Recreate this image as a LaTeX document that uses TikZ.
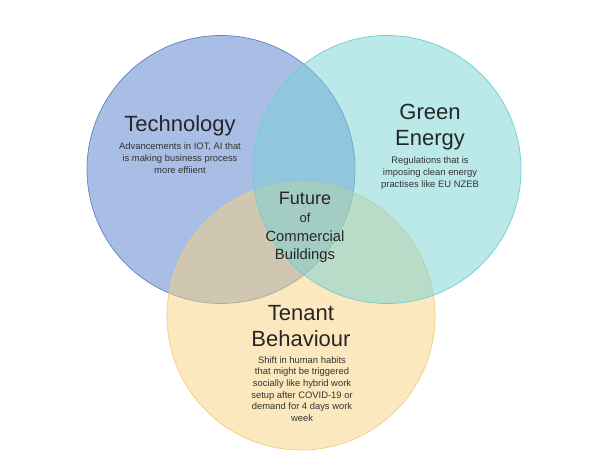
\documentclass[tikz,border=0pt]{standalone}
\usepackage{fontspec}
\setmainfont{Liberation Sans}
\begin{document}
\begin{tikzpicture}[x=1pt,y=-1pt,
  venn/.style={circle, minimum size=268pt, inner sep=0pt, line width=0.7pt, fill opacity=0.5},
  title/.style={align=center, text=black!85, font=\fontsize{22}{26}\selectfont},
  desc/.style={align=center, text=black!80, font=\fontsize{9.4}{11.7}\selectfont},
]
\definecolor{techfill}{RGB}{83,125,203}
\definecolor{techline}{RGB}{96,128,196}
\definecolor{greenfill}{RGB}{119,209,211}
\definecolor{greenline}{RGB}{110,205,208}
\definecolor{tenfill}{RGB}{249,209,125}
\definecolor{tenline}{RGB}{240,205,130}
\useasboundingbox (0,0) rectangle (595,465);
\node[venn, draw=techline, fill=techfill] (tech) at (221,169.5) {};
\node[venn, draw=tenline, fill=tenfill] (tenant) at (301,316) {};
\node[venn, draw=greenline, fill=greenfill] (green) at (387,169.5) {};

\node[title] (techT) at (180,126) {Technology};
\node[desc] (techD) at (180,158) {Advancements in IOT, AI that\\is making business process\\more effiient};

\node[title] (greenT) at (430,127.5) {Green\\Energy};
\node[desc] (greenD) at (430,173) {Regulations that is\\imposing clean energy\\practises like EU NZEB};

\node[title] (tenT) at (301,326) {Tenant\\Behaviour};
\node[desc] (tenD) at (302,389) {Shift in human habits\\that might be triggered\\socially like hybrid work\\setup after COVID-19 or\\demand for 4 days work\\week};

\node[align=center, text=black!85, font=\fontsize{18}{20}\selectfont] (futT) at (305,198) {Future};
\node[align=center, text=black!85, font=\fontsize{13}{15}\selectfont] (futO) at (305,218) {of};
\node[align=center, text=black!85, font=\fontsize{14.8}{18.5}\selectfont] (futC) at (305,246.5) {Commercial\\Buildings};
\end{tikzpicture}
\end{document}
